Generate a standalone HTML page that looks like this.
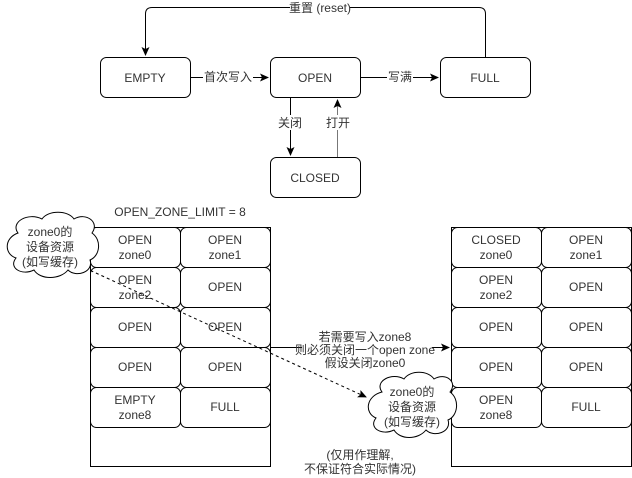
<!DOCTYPE html>
<html><head><meta charset="utf-8"><style>
html,body{margin:0;padding:0;background:#fff}
svg{display:block}
text{font-family:"Liberation Sans","Noto Sans CJK SC",sans-serif;font-size:12px;fill:#333}
</style></head><body>
<svg width="632" height="478" viewBox="0 0 632 478" xmlns="http://www.w3.org/2000/svg">
<defs>
<marker id="a" markerWidth="10" markerHeight="10" refX="8" refY="5" orient="auto" markerUnits="userSpaceOnUse">
<path d="M0,1 L9,5 L0,9 L2,5 Z" fill="#000"/></marker>
</defs>
<g fill="#fff" stroke="#000" stroke-width="1">
<rect x="100.5" y="57.5" width="90" height="40" rx="6"/>
<rect x="270.5" y="57.5" width="90" height="40" rx="6"/>
<rect x="440.5" y="57.5" width="90" height="40" rx="6"/>
<rect x="270.5" y="157.5" width="90" height="40" rx="6"/>
</g>
<g fill="none" stroke="#000">
<path d="M485.5,57 V14 Q485.5,7.5 479,7.5 H152 Q145.5,7.5 145.5,14 V55" marker-end="url(#a)"/>
<path d="M190,77.5 H268" marker-end="url(#a)"/>
<path d="M360,77.5 H438" marker-end="url(#a)"/>
<path d="M290.5,98 V155" marker-end="url(#a)"/>
<path d="M337.5,157 V100" stroke="#777" marker-end="url(#a)"/>
</g>
<g text-anchor="middle">
<rect x="203" y="69" width="50" height="15" fill="#fff"/>
<text x="228" y="81">首次写入</text>
<rect x="387" y="69" width="26" height="15" fill="#fff"/>
<text x="400" y="81">写满</text>
<rect x="275" y="115" width="30" height="15" fill="#fff"/>
<text x="290" y="127">关闭</text>
<rect x="323" y="115" width="30" height="15" fill="#fff"/>
<text x="338" y="127">打开</text>
<rect x="290" y="1" width="60" height="14" fill="#fff"/>
<text x="320" y="12">重置 (reset)</text>
<text x="145" y="82">EMPTY</text>
<text x="315" y="82">OPEN</text>
<text x="485" y="82">FULL</text>
<text x="315" y="182">CLOSED</text>
<text x="180" y="216">OPEN_ZONE_LIMIT = 8</text>
</g>
<!-- containers -->
<g fill="#fff" stroke="#000">
<rect x="90.5" y="227.5" width="180" height="239"/>
<rect x="451.5" y="227.5" width="180" height="239"/>
</g>
<g fill="#fff" stroke="#000">
<rect x="90.5" y="227.5" width="90" height="40" rx="6"/><rect x="180.5" y="227.5" width="90" height="40" rx="6"/>
<rect x="90.5" y="267.5" width="90" height="40" rx="6"/><rect x="180.5" y="267.5" width="90" height="40" rx="6"/>
<rect x="90.5" y="307.5" width="90" height="40" rx="6"/><rect x="180.5" y="307.5" width="90" height="40" rx="6"/>
<rect x="90.5" y="347.5" width="90" height="40" rx="6"/><rect x="180.5" y="347.5" width="90" height="40" rx="6"/>
<rect x="90.5" y="387.5" width="90" height="40" rx="6"/><rect x="180.5" y="387.5" width="90" height="40" rx="6"/>
<rect x="451.5" y="227.5" width="90" height="40" rx="6"/><rect x="541.5" y="227.5" width="90" height="40" rx="6"/>
<rect x="451.5" y="267.5" width="90" height="40" rx="6"/><rect x="541.5" y="267.5" width="90" height="40" rx="6"/>
<rect x="451.5" y="307.5" width="90" height="40" rx="6"/><rect x="541.5" y="307.5" width="90" height="40" rx="6"/>
<rect x="451.5" y="347.5" width="90" height="40" rx="6"/><rect x="541.5" y="347.5" width="90" height="40" rx="6"/>
<rect x="451.5" y="387.5" width="90" height="40" rx="6"/><rect x="541.5" y="387.5" width="90" height="40" rx="6"/>
</g>
<g text-anchor="middle">
<text x="135" y="244">OPEN</text><text x="135" y="259">zone0</text>
<text x="225" y="244">OPEN</text><text x="225" y="259">zone1</text>
<text x="135" y="284">OPEN</text><text x="135" y="299">zone2</text>
<text x="225" y="291">OPEN</text>
<text x="135" y="331">OPEN</text><text x="225" y="331">OPEN</text>
<text x="135" y="371">OPEN</text><text x="225" y="371">OPEN</text>
<text x="135" y="404">EMPTY</text><text x="135" y="419">zone8</text>
<text x="225" y="411">FULL</text>
<text x="496" y="244">CLOSED</text><text x="496" y="259">zone0</text>
<text x="586" y="244">OPEN</text><text x="586" y="259">zone1</text>
<text x="496" y="284">OPEN</text><text x="496" y="299">zone2</text>
<text x="586" y="291">OPEN</text>
<text x="496" y="331">OPEN</text><text x="586" y="331">OPEN</text>
<text x="496" y="371">OPEN</text><text x="586" y="371">OPEN</text>
<text x="496" y="404">OPEN</text><text x="496" y="419">zone8</text>
<text x="586" y="411">FULL</text>
</g>
<!-- main arrow -->
<path d="M270,347.5 H449" stroke="#000" fill="none" marker-end="url(#a)"/>
<!-- dashed -->
<path d="M85,268 L366,397" stroke="#000" fill="none" stroke-dasharray="3,3" marker-end="url(#a)"/>
<g text-anchor="middle">
<rect x="302" y="339" width="130" height="14" fill="#fff"/>
<text x="365" y="341">若需要写入zone8</text>
<text x="365" y="354">则必须关闭一个open zone</text>
<text x="365" y="367">假设关闭zone0</text>
</g>
<!-- clouds -->
<path d="M18,233 C10,222 28,212 42,219 C48,210 68,210 74,219 C86,212 100,222 92,233 C102,240 100,256 90,260 C94,272 76,278 68,270 C60,280 40,280 34,270 C22,276 8,268 16,258 C4,254 4,238 18,233 Z" fill="#fff" stroke="#000"/>
<g text-anchor="middle">
<text x="50" y="236">zone0的</text><text x="50" y="251">设备资源</text><text x="50" y="266">(如写缓存)</text>
</g>
<path d="M382,392 C374,381 392,372 404,379 C410,370 428,370 434,379 C446,372 458,382 450,392 C460,399 458,416 448,420 C452,432 434,438 426,430 C418,440 400,440 394,430 C382,436 368,428 376,418 C364,413 366,396 382,392 Z" fill="#fff" stroke="#000"/>
<g text-anchor="middle">
<text x="412" y="396">zone0的</text><text x="412" y="411">设备资源</text><text x="412" y="426">(如写缓存)</text>
</g>
<g text-anchor="middle">
<text x="360" y="459">(仅用作理解,</text>
<text x="360" y="473">不保证符合实际情况)</text>
</g>
</svg>
</body></html>
